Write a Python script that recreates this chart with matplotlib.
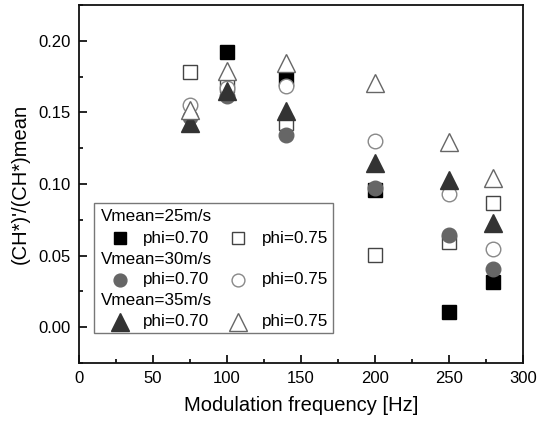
#!/usr/bin/env python3
"""Normalised CH* fluctuation vs modulation frequency, three mean velocities."""
import matplotlib
matplotlib.use("Agg")
import matplotlib.pyplot as plt
from matplotlib.patches import Rectangle
from matplotlib.ticker import MultipleLocator
import numpy as np

plt.rcParams["font.family"] = ["Liberation Sans", "DejaVu Sans"]

freq = [75, 100, 140, 200, 250, 280]
v25_phi070 = [np.nan, 0.1925, 0.173, 0.0955, 0.0104, 0.0317]
v25_phi075 = [0.1784, 0.169, 0.1425, 0.0505, 0.0592, 0.0869]
v30_phi070 = [0.147, 0.1613, 0.1343, 0.0972, 0.0646, 0.0404]
v30_phi075 = [0.1554, 0.167, 0.1683, 0.130, 0.0927, 0.0545]
v35_phi070 = [0.1425, 0.1648, 0.1507, 0.1148, 0.1026, 0.0725]
v35_phi075 = [0.1519, 0.1789, 0.1848, 0.1707, 0.1296, 0.1045]

groups = ["Vmean=25m/s", "Vmean=30m/s", "Vmean=35m/s"]
phis = ["phi=0.70", "phi=0.75"]

# (values, marker, size, face, edge) per series, drawn in this order
styles = [
    (v25_phi070, "s", 9.5, "#000000", "#000000"),
    (v25_phi075, "s", 9.5, "white", "#444444"),
    (v30_phi070, "o", 10.5, "#666666", "#666666"),
    (v30_phi075, "o", 10.5, "white", "#888888"),
    (v35_phi070, "^", 12.5, "#333333", "#333333"),
    (v35_phi075, "^", 12.5, "white", "#666666"),
]

fig = plt.figure(figsize=(5.37, 4.22), dpi=100)
ax = fig.add_axes([0.147, 0.140, 0.827, 0.848])

for vals, m, ms, fc, ec in styles:
    ax.plot(freq, vals, linestyle="none", marker=m, markersize=ms,
            markerfacecolor=fc, markeredgecolor=ec, markeredgewidth=1.0)

ax.set_xlim(0, 300)
ax.set_ylim(-0.025, 0.225)
ax.xaxis.set_major_locator(MultipleLocator(50))
ax.xaxis.set_minor_locator(MultipleLocator(25))
ax.yaxis.set_major_locator(MultipleLocator(0.05))
ax.yaxis.set_minor_locator(MultipleLocator(0.025))
ax.yaxis.set_major_formatter(matplotlib.ticker.FormatStrFormatter("%.2f"))
ax.tick_params(which="both", direction="in", top=False, right=False,
               width=1.2, labelsize=12, pad=6)
ax.tick_params(which="major", length=5.5)
ax.tick_params(which="minor", length=3)
for sp in ax.spines.values():
    sp.set_linewidth(1.3)
    sp.set_color("#111111")

ax.set_xlabel("Modulation frequency [Hz]", fontsize=14.5, labelpad=7)
ax.set_ylabel("(CH*)'/(CH*)mean", fontsize=14.5, labelpad=6)

# hand-built legend: group heading rows followed by two marker entries
tr = ax.transAxes
ax.add_patch(Rectangle((0.0345, 0.0846), 0.5375, 0.3624, transform=tr,
                       facecolor="white", edgecolor="#777777", lw=1.0,
                       zorder=5))
row_y = [0.4087, 0.3483, 0.2897, 0.2318, 0.1732, 0.1154]
for gi, name in enumerate(groups):
    ax.text(0.0489, row_y[2 * gi], name, transform=tr, fontsize=12.3,
            va="center", ha="left", zorder=6)
    for pi, (mx, tx) in enumerate([(0.0923, 0.1448), (0.3588, 0.4113)]):
        _, m, ms, fc, ec = styles[2 * gi + pi]
        scale = 1.0 if m == "^" else 0.88
        ax.plot([mx], [row_y[2 * gi + 1]], transform=tr, linestyle="none",
                marker=m, markersize=ms * scale, markerfacecolor=fc,
                markeredgecolor=ec, markeredgewidth=1.0, zorder=6,
                clip_on=False)
        ax.text(tx, row_y[2 * gi + 1], phis[pi], transform=tr,
                fontsize=12.3, va="center", ha="left", zorder=6)

fig.savefig("out.png", dpi=100)
